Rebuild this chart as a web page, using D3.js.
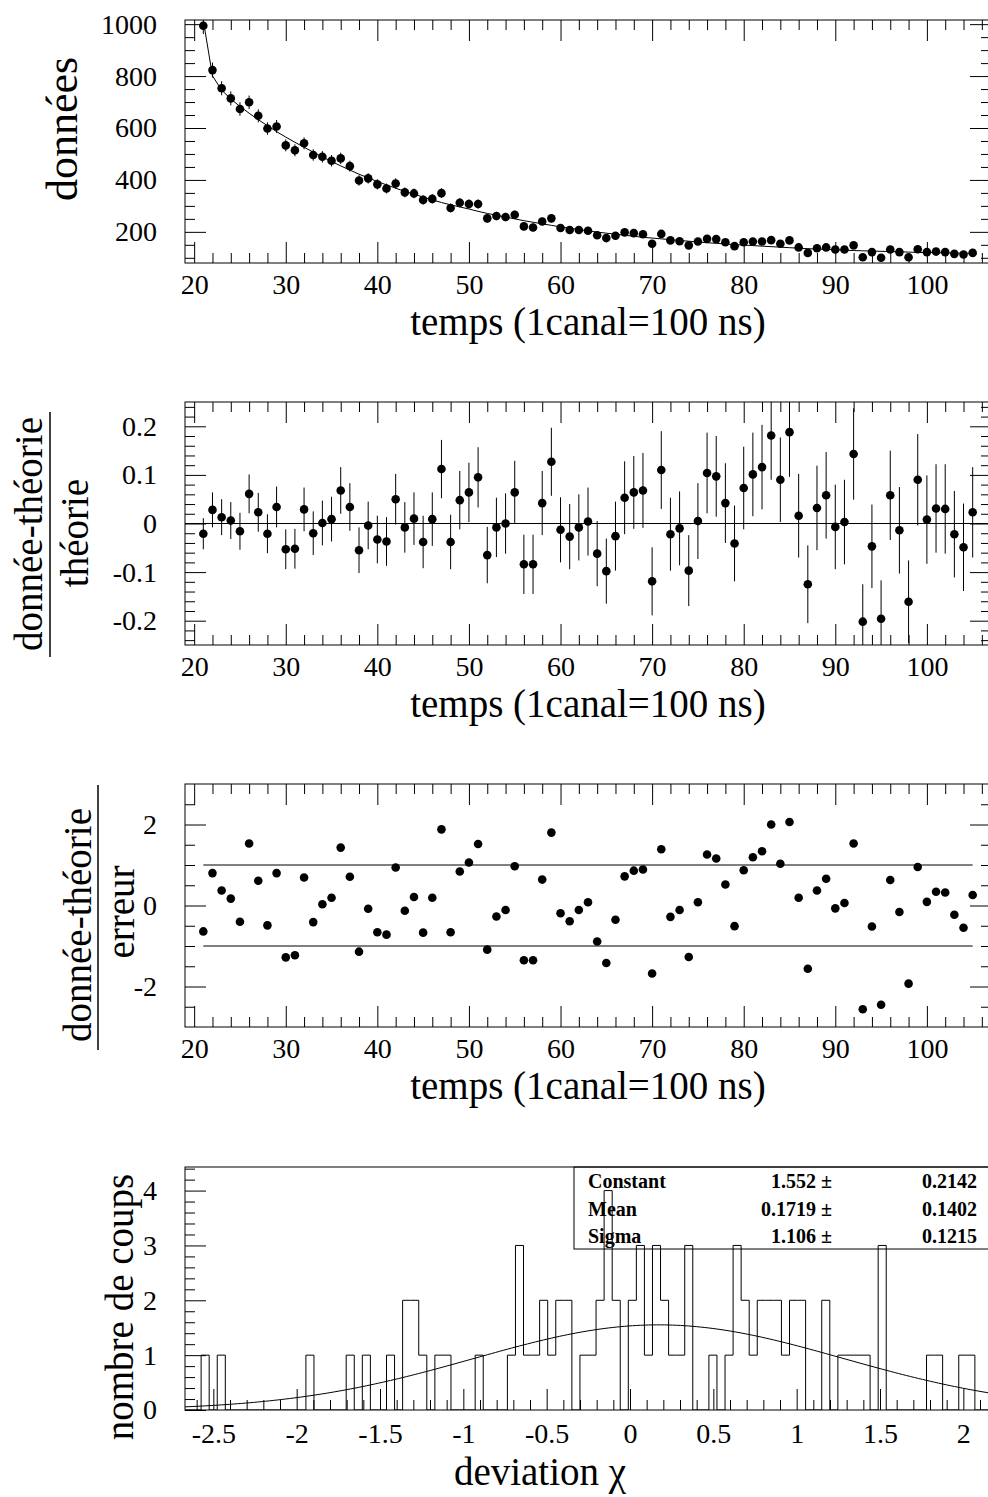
<!DOCTYPE html>
<html>
<head>
<meta charset="utf-8">
<script src="https://cdn.jsdelivr.net/npm/d3@7"></script>
<style>
  body { margin: 0; background: #fff; }
  svg { display: block; }
  text { font-family: "Liberation Serif", "Times New Roman", serif; fill: #000; }
</style>
</head>
<body>
<svg id="chart" width="988" height="1497"></svg>
<script>
// ---- channels (1 canal = 100 ns) ----
const channels = [
  21,22,23,24,25,26,27,28,29,30,
  31,32,33,34,35,36,37,38,39,40,
  41,42,43,44,45,46,47,48,49,50,
  51,52,53,54,55,56,57,58,59,60,
  61,62,63,64,65,66,67,68,69,70,
  71,72,73,74,75,76,77,78,79,80,
  81,82,83,84,85,86,87,88,89,90,
  91,92,93,94,95,96,97,98,99,100,
  101,102,103,104,105];

// counts per channel
const counts = [
  994,823,753,714,673,699,647,598,606,533,
  514,541,496,489,474,483,453,398,406,383,
  367,386,352,348,323,327,349,292,312,307,
  307,252,261,257,266,221,217,240,252,215,
  207,207,204,187,176,185,198,195,191,154,
  192,167,164,148,163,173,172,160,145,160,
  163,163,168,154,167,140,119,137,140,132,
  132,148,102,122,100,132,122,102,133,122,
  124,122,115,113,119];

// statistical error on the counts
const countErr = [
  32,29,27,27,26,26,25,24,25,23,
  23,23,22,22,22,22,21,20,20,20,
  19,20,19,19,18,18,19,17,18,18,
  18,16,16,16,16,15,15,15,16,15,
  14,14,14,14,13,14,14,14,14,12,
  14,13,13,12,13,13,13,13,12,13,
  13,13,13,12,13,12,11,12,12,11,
  11,12,10,11,10,11,11,10,12,11,
  11,11,11,11,11];

// fitted model evaluated at each channel
const theory = [
  1014,801,746,712,683,657,632,609,586,565,
  545,526,507,489,471,454,438,422,408,394,
  381,368,356,345,334,323,313,304,296,288,
  279,271,264,257,250,243,237,231,225,219,
  214,209,204,199,195,191,187,183,179,176,
  173,170,167,164,161,158,156,153,151,149,
  147,145,143,141,139,137,135,134,132,131,
  129,128,127,126,125,124,123,122,121,120,
  120,119,118,118,117];

// (donnée - théorie) / théorie
const relDev = [
  -0.021,0.028,0.013,0.006,-0.016,0.061,0.023,-0.021,0.034,-0.053,
  -0.052,0.029,-0.020,0.001,0.009,0.068,0.034,-0.055,-0.004,-0.033,
  -0.037,0.050,-0.008,0.010,-0.038,0.009,0.112,-0.038,0.048,0.064,
  0.095,-0.065,-0.008,0.000,0.064,-0.084,-0.084,0.042,0.127,-0.013,
  -0.027,-0.008,0.004,-0.062,-0.098,-0.026,0.053,0.064,0.068,-0.119,
  0.110,-0.022,-0.010,-0.097,0.005,0.104,0.097,0.042,-0.041,0.073,
  0.101,0.116,0.181,0.090,0.188,0.016,-0.125,0.032,0.058,-0.007,
  0.003,0.143,-0.202,-0.047,-0.196,0.058,-0.014,-0.161,0.090,0.008,
  0.031,0.030,-0.022,-0.049,0.023];

// error on the relative deviation
const relErr = [
  0.032,0.036,0.037,0.038,0.038,0.040,0.040,0.040,0.042,0.041,
  0.041,0.045,0.045,0.046,0.046,0.048,0.049,0.047,0.049,0.049,
  0.050,0.052,0.052,0.054,0.054,0.055,0.060,0.056,0.060,0.061,
  0.062,0.058,0.061,0.062,0.065,0.061,0.061,0.066,0.070,0.067,
  0.067,0.068,0.070,0.067,0.067,0.071,0.075,0.075,0.077,0.070,
  0.080,0.075,0.076,0.073,0.078,0.083,0.083,0.082,0.078,0.085,
  0.086,0.087,0.091,0.087,0.092,0.086,0.080,0.087,0.089,0.087,
  0.087,0.094,0.077,0.086,0.079,0.092,0.089,0.085,0.094,0.091,
  0.091,0.092,0.089,0.090,0.093];

// (donnée - théorie) / erreur
const pull = [
  -0.64,0.80,0.37,0.17,-0.40,1.53,0.61,-0.49,0.80,-1.28,
  -1.23,0.69,-0.41,0.03,0.19,1.43,0.71,-1.14,-0.08,-0.66,
  -0.72,0.94,-0.13,0.21,-0.67,0.19,1.88,-0.66,0.84,1.06,
  1.52,-1.09,-0.27,-0.11,0.97,-1.35,-1.35,0.64,1.80,-0.19,
  -0.39,-0.11,0.08,-0.89,-1.42,-0.35,0.72,0.86,0.89,-1.68,
  1.39,-0.28,-0.11,-1.27,0.08,1.26,1.16,0.52,-0.51,0.87,
  1.19,1.34,2.00,1.03,2.06,0.19,-1.56,0.37,0.66,-0.07,
  0.06,1.53,-2.56,-0.52,-2.45,0.63,-0.16,-1.93,0.95,0.09,
  0.34,0.32,-0.23,-0.55,0.26];

// histogram of the deviations: 100 bins between histLo and histHi
const histLo = -2.67, histHi = 2.166;
const histCounts = [
  0,0,1,0,1,0,0,0,0,0,
  0,0,0,0,0,1,0,0,0,0,
  1,0,1,0,0,1,0,2,2,1,
  0,1,1,0,0,0,1,0,0,0,
  1,3,1,1,2,1,2,2,0,1,
  1,2,4,2,0,2,3,1,3,2,
  1,1,3,0,0,1,0,1,3,2,
  1,2,2,2,1,2,2,0,0,2,
  0,1,1,1,1,0,3,0,0,0,
  0,0,1,1,0,0,1,1,0,0];

// gaussian fit of the histogram
const fitNames  = ["Constant", "Mean", "Sigma"];
const fitValues = [1.552, 0.1719, 1.106];
const fitErrors = [0.2142, 0.1402, 0.1215];
const fitValueLabels = ["1.552", "0.1719", "1.106"];
const fitErrorLabels = ["0.2142", "0.1402", "0.1215"];

// tick label lists
const timeTicks = [20, 30, 40, 50, 60, 70, 80, 90, 100];
const countTicks = [200, 400, 600, 800, 1000];
const relTicks = [-0.2, -0.1, 0, 0.1, 0.2];
const pullTicks = [-2, 0, 2];
const freqTicks = [0, 1, 2, 3, 4];
const devTicks = [-2.5, -2, -1.5, -1, -0.5, 0, 0.5, 1, 1.5, 2];

// ---------------------------------------------------------------
const svg = d3.select("#chart");
const FONT = '"Liberation Serif", "Times New Roman", serif';
const LEFT = 185, RIGHT = 991, PH = 243;
const TOPS = [20, 402, 784, 1167];
const MAJ = 21, MIN = 10;
const LABEL_SIZE = 28, TITLE_SIZE = 39;

const xTime = d3.scaleLinear().domain([19, 107]).range([LEFT, RIGHT]);
const xDev = d3.scaleLinear().domain([histLo, histHi]).range([LEFT, RIGHT]);

function minorValues(lo, hi, step, majors) {
  const out = [];
  const n = Math.round((hi - lo) / step);
  for (let i = 0; i <= n; i++) {
    const v = +(lo + i * step).toFixed(6);
    if (!majors.some(m => Math.abs(m - v) < step / 10)) out.push(v);
  }
  return out;
}

function styleAxis(g) {
  g.select(".domain").remove();
  g.selectAll("line").attr("stroke", "#000").attr("stroke-width", 1);
  g.selectAll("text").attr("font-family", FONT).attr("font-size", LABEL_SIZE).attr("fill", "#000");
}

// draws inward ticks on the chosen sides, labels on bottom and left
function drawAxes(g, x, y, opt) {
  const top = y.range()[1], bottom = y.range()[0];
  const fmt = d => String(d);
  // bottom
  g.append("g").attr("transform", `translate(0,${bottom})`)
    .call(d3.axisBottom(x).tickValues(opt.xMajor).tickSize(-MAJ).tickPadding(opt.xPad).tickFormat(fmt))
    .call(styleAxis);
  g.append("g").attr("transform", `translate(0,${bottom})`)
    .call(d3.axisBottom(x).tickValues(opt.xMinor).tickSize(-MIN).tickFormat(""))
    .call(styleAxis);
  // left
  g.append("g").attr("transform", `translate(${LEFT},0)`)
    .call(d3.axisLeft(y).tickValues(opt.yMajor).tickSize(-MAJ).tickPadding(28).tickFormat(fmt))
    .call(styleAxis);
  g.append("g").attr("transform", `translate(${LEFT},0)`)
    .call(d3.axisLeft(y).tickValues(opt.yMinor).tickSize(-MIN).tickFormat(""))
    .call(styleAxis);
  if (opt.mirror) {
    g.append("g").attr("transform", `translate(0,${top})`)
      .call(d3.axisTop(x).tickValues(opt.xMajor).tickSize(-MAJ).tickFormat(""))
      .call(styleAxis);
    g.append("g").attr("transform", `translate(0,${top})`)
      .call(d3.axisTop(x).tickValues(opt.xMinor).tickSize(-MIN).tickFormat(""))
      .call(styleAxis);
    g.append("g").attr("transform", `translate(${RIGHT},0)`)
      .call(d3.axisRight(y).tickValues(opt.yMajor).tickSize(-MAJ).tickFormat(""))
      .call(styleAxis);
    g.append("g").attr("transform", `translate(${RIGHT},0)`)
      .call(d3.axisRight(y).tickValues(opt.yMinor).tickSize(-MIN).tickFormat(""))
      .call(styleAxis);
  }
  // frame
  g.append("rect").attr("x", LEFT).attr("y", top)
    .attr("width", RIGHT - LEFT).attr("height", bottom - top)
    .attr("fill", "none").attr("stroke", "#000").attr("stroke-width", 1);
}

function clipFor(id, top) {
  svg.append("clipPath").attr("id", id).append("rect")
    .attr("x", LEFT).attr("y", top).attr("width", RIGHT - LEFT).attr("height", PH);
  return `url(#${id})`;
}

function xTitle(text, cx, baseline) {
  svg.append("text").attr("x", cx).attr("y", baseline)
    .attr("text-anchor", "middle").attr("font-size", TITLE_SIZE).text(text);
}
function yTitle(text, baselineX, cy, size) {
  svg.append("text").attr("transform", `translate(${baselineX},${cy}) rotate(-90)`)
    .attr("text-anchor", "middle").attr("font-size", size || TITLE_SIZE).text(text);
}

const timeMinor = minorValues(20, 106, 2, timeTicks);
const rows = channels.map((c, i) => ({ c, n: counts[i], e: countErr[i], t: theory[i], r: relDev[i], re: relErr[i], p: pull[i] }));

// ---------------- panel 1 : counts vs time ----------------
{
  const y = d3.scaleLinear().domain([80, 1016]).range([TOPS[0] + PH, TOPS[0]]);
  const g = svg.append("g");
  const clip = clipFor("clip1", TOPS[0]);
  const pg = g.append("g").attr("clip-path", clip);
  pg.append("path").datum(rows)
    .attr("d", d3.line().x(d => xTime(d.c)).y(d => y(d.t)))
    .attr("fill", "none").attr("stroke", "#000").attr("stroke-width", 1);
  pg.selectAll("line.err").data(rows).join("line").attr("class", "err")
    .attr("x1", d => xTime(d.c)).attr("x2", d => xTime(d.c))
    .attr("y1", d => y(d.n - d.e)).attr("y2", d => y(d.n + d.e))
    .attr("stroke", "#000").attr("stroke-width", 1);
  pg.selectAll("circle").data(rows).join("circle")
    .attr("cx", d => xTime(d.c)).attr("cy", d => y(d.n)).attr("r", 4.3).attr("fill", "#000");
  drawAxes(g, xTime, y, {
    xMajor: timeTicks, xMinor: timeMinor, xPad: 11,
    yMajor: countTicks, yMinor: minorValues(100, 1000, 50, countTicks), mirror: true
  });
  yTitle("données", 77, 129, 44);
  xTitle("temps (1canal=100 ns)", 588, 335);
}

// ---------------- panel 2 : relative deviation ----------------
{
  const y = d3.scaleLinear().domain([-0.25, 0.25]).range([TOPS[1] + PH, TOPS[1]]);
  const g = svg.append("g");
  const clip = clipFor("clip2", TOPS[1]);
  const pg = g.append("g").attr("clip-path", clip);
  pg.append("line").attr("x1", LEFT).attr("x2", RIGHT).attr("y1", y(0)).attr("y2", y(0))
    .attr("stroke", "#000").attr("stroke-width", 1);
  pg.selectAll("line.err").data(rows).join("line").attr("class", "err")
    .attr("x1", d => xTime(d.c)).attr("x2", d => xTime(d.c))
    .attr("y1", d => y(d.r - d.re)).attr("y2", d => y(d.r + d.re))
    .attr("stroke", "#000").attr("stroke-width", 1);
  pg.selectAll("circle").data(rows).join("circle")
    .attr("cx", d => xTime(d.c)).attr("cy", d => y(d.r)).attr("r", 4.3).attr("fill", "#000");
  drawAxes(g, xTime, y, {
    xMajor: timeTicks, xMinor: timeMinor, xPad: 11,
    yMajor: relTicks, yMinor: minorValues(-0.24, 0.24, 0.02, relTicks), mirror: true
  });
  yTitle("donnée-théorie", 42, 534);
  svg.append("line").attr("x1", 50).attr("x2", 50).attr("y1", 412).attr("y2", 657)
    .attr("stroke", "#000").attr("stroke-width", 1.5);
  yTitle("théorie", 88, 533);
  xTitle("temps (1canal=100 ns)", 588, 717);
}

// ---------------- panel 3 : deviation / error ----------------
{
  const y = d3.scaleLinear().domain([-3, 3]).range([TOPS[2] + PH, TOPS[2]]);
  const g = svg.append("g");
  const clip = clipFor("clip3", TOPS[2]);
  const pg = g.append("g").attr("clip-path", clip);
  [1, -1].forEach(v => {
    pg.append("line")
      .attr("x1", xTime(channels[0])).attr("x2", xTime(channels[channels.length - 1]))
      .attr("y1", y(v)).attr("y2", y(v))
      .attr("stroke", "#000").attr("stroke-width", 1);
  });
  pg.selectAll("circle").data(rows).join("circle")
    .attr("cx", d => xTime(d.c)).attr("cy", d => y(d.p)).attr("r", 4.3).attr("fill", "#000");
  drawAxes(g, xTime, y, {
    xMajor: timeTicks, xMinor: timeMinor, xPad: 11,
    yMajor: pullTicks, yMinor: minorValues(-2.5, 2.5, 0.5, pullTicks), mirror: true
  });
  yTitle("donnée-théorie", 91, 925);
  svg.append("line").attr("x1", 98).attr("x2", 98).attr("y1", 785).attr("y2", 1050)
    .attr("stroke", "#000").attr("stroke-width", 1.5);
  yTitle("erreur", 134, 912);
  xTitle("temps (1canal=100 ns)", 588, 1099);
}

// ---------------- panel 4 : histogram of deviations ----------------
{
  const y = d3.scaleLinear().domain([0, 4.43]).range([TOPS[3] + PH, TOPS[3]]);
  const g = svg.append("g");
  const clip = clipFor("clip4", TOPS[3]);
  const pg = g.append("g").attr("clip-path", clip);
  const nb = histCounts.length;
  const w = (histHi - histLo) / nb;
  const edge = i => histLo + i * w;
  const pts = [[edge(0), 0]];
  histCounts.forEach((h, i) => pts.push([edge(i), h]));
  pts.push([edge(nb), 0]);
  pg.append("path").datum(pts)
    .attr("d", d3.line().x(d => xDev(d[0])).y(d => y(d[1])).curve(d3.curveStepAfter))
    .attr("fill", "none").attr("stroke", "#000").attr("stroke-width", 1);
  // gaussian from the fitted parameters
  const [A, mu, sig] = fitValues;
  const gx = d3.range(0, 201).map(k => histLo + k * (histHi - histLo) / 200);
  pg.append("path").datum(gx)
    .attr("d", d3.line().x(d => xDev(d)).y(d => y(A * Math.exp(-0.5 * ((d - mu) / sig) ** 2))))
    .attr("fill", "none").attr("stroke", "#000").attr("stroke-width", 1);
  drawAxes(g, xDev, y, {
    xMajor: devTicks, xMinor: minorValues(-2.6, 2.1, 0.1, devTicks), xPad: 13,
    yMajor: freqTicks, yMinor: minorValues(0, 4.4, 0.2, freqTicks), mirror: false
  });
  // statistics box
  const box = g.append("g");
  box.append("rect").attr("x", 574).attr("y", TOPS[3]).attr("width", 430).attr("height", 82)
    .attr("fill", "none").attr("stroke", "#000").attr("stroke-width", 1);
  const baselines = [1188, 1215.5, 1243];
  fitNames.forEach((nm, i) => {
    box.append("text").attr("x", 588).attr("y", baselines[i])
      .attr("font-size", 20).attr("font-weight", "bold").text(nm);
    box.append("text").attr("x", 832).attr("y", baselines[i]).attr("text-anchor", "end")
      .attr("font-size", 20).attr("font-weight", "bold").text(fitValueLabels[i] + " \u00B1");
    box.append("text").attr("x", 977).attr("y", baselines[i]).attr("text-anchor", "end")
      .attr("font-size", 20).attr("font-weight", "bold").text(fitErrorLabels[i]);
  });
  yTitle("nombre de coups", 133, 1307);
  xTitle("deviation \u03C7", 540, 1485);
}
</script>
</body>
</html>
